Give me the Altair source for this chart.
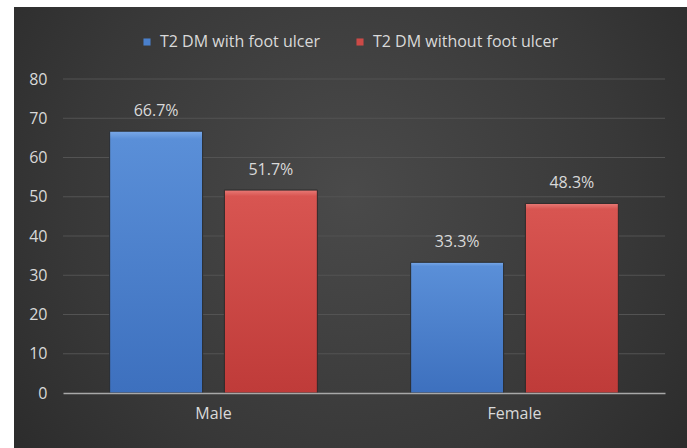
import altair as alt
import pandas as pd

# Share of patients by gender (%), for each study group
genders = ["Male", "Female"]
groups = ["T2 DM with foot ulcer", "T2 DM without foot ulcer"]
with_ulcer = [66.7, 33.3]
without_ulcer = [51.7, 48.3]
y_ticks = [0, 10, 20, 30, 40, 50, 60, 70, 80]

rows = []
for g, a, b in zip(genders, with_ulcer, without_ulcer):
    rows.append({"gender": g, "group": groups[0], "value": a})
    rows.append({"gender": g, "group": groups[1], "value": b})
df = pd.DataFrame(rows)
df["label"] = df["value"].map(lambda v: f"{v:.1f}%")

W, H = 602, 314
FONT = "Open Sans"
FS = 16
TXT = "#d9d9d9"
BLUE = "#4a80cc"
RED = "#cc4a47"

x_enc = alt.X("gender:N", sort=genders,
              scale=alt.Scale(paddingInner=0.31, paddingOuter=0.155),
              axis=alt.Axis(title=None, labelAngle=0, labelColor=TXT, labelFontSize=FS,
                            labelFont=FONT, labelPadding=12, ticks=False, zindex=1,
                            domainColor="#a8a8a8", domainWidth=1.5, grid=False))
xo_enc = alt.XOffset("group:N", sort=groups,
                     scale=alt.Scale(paddingInner=0.19, paddingOuter=0))
y_scale = alt.Scale(domain=[0, 80], nice=False)
y_axis = alt.Axis(title=None, values=y_ticks, labelColor=TXT,
                  labelFontSize=FS, labelFont=FONT, labelPadding=16,
                  ticks=False, domain=False, grid=False, zindex=1)
y_enc = alt.Y("value:Q", scale=y_scale, axis=y_axis)

# dark radial backdrop for the whole chart
backdrop = alt.Chart(alt.Data(values=[{"k": 1}])).mark_rect(
    color=alt.RadialGradient(
        gradient="radial", x1=0.5, y1=0.45, r1=0.0, x2=0.5, y2=0.45, r2=0.75,
        stops=[alt.GradientStop(color="#4a4a4a", offset=0.0),
               alt.GradientStop(color="#383838", offset=0.55),
               alt.GradientStop(color="#252525", offset=1.0)])
).encode(x=alt.value(-49), x2=alt.value(W + 22), y=alt.value(-72), y2=alt.value(H + 55))

# horizontal gridlines, drawn above the backdrop and below the bars
grid = alt.Chart(pd.DataFrame({"value": y_ticks[1:]})).mark_rule(
    color="#535353", strokeWidth=1
).encode(y=y_enc)

base = alt.Chart(df)

# flat bars that carry the legend
bars = base.mark_bar().encode(
    x=x_enc, xOffset=xo_enc, y=y_enc,
    color=alt.Color("group:N", sort=groups,
                    scale=alt.Scale(domain=groups, range=[BLUE, RED]),
                    legend=alt.Legend(title=None, orient="none", direction="horizontal",
                                      legendX=76, legendY=-45, symbolType="square",
                                      symbolSize=50, labelColor=TXT, labelFontSize=FS,
                                      labelFont=FONT, labelLimit=400,
                                      columnPadding=32, labelOffset=5)),
)


def shaded(group, top, mid, bottom):
    return base.transform_filter(alt.datum.group == group).mark_bar(
        stroke="#2a2a2a", strokeWidth=1,
        color=alt.LinearGradient(
            gradient="linear", x1=0, y1=0, x2=0, y2=1,
            stops=[alt.GradientStop(color=top, offset=0.0),
                   alt.GradientStop(color=mid, offset=0.03),
                   alt.GradientStop(color=bottom, offset=1.0)])
    ).encode(x=x_enc, xOffset=xo_enc, y=y_enc)


blue_bars = shaded(groups[0], "#7aa9e8", "#5a8fd8", "#3d70be")
red_bars = shaded(groups[1], "#e87a76", "#d85551", "#bf3b39")

labels = base.mark_text(dy=-20, color=TXT, fontSize=FS, font=FONT).encode(
    x=x_enc, xOffset=xo_enc, y=y_enc, text="label:N")

chart = alt.layer(backdrop, grid, bars, blue_bars, red_bars, labels).properties(
    width=W, height=H,
    background="white",
    padding={"left": 63, "top": 79, "right": 22, "bottom": 55},
    autosize=alt.AutoSizeParams(type="none"),
).configure_view(stroke=None)

chart.save("out.html", embed_options={"renderer": "svg", "actions": False})
